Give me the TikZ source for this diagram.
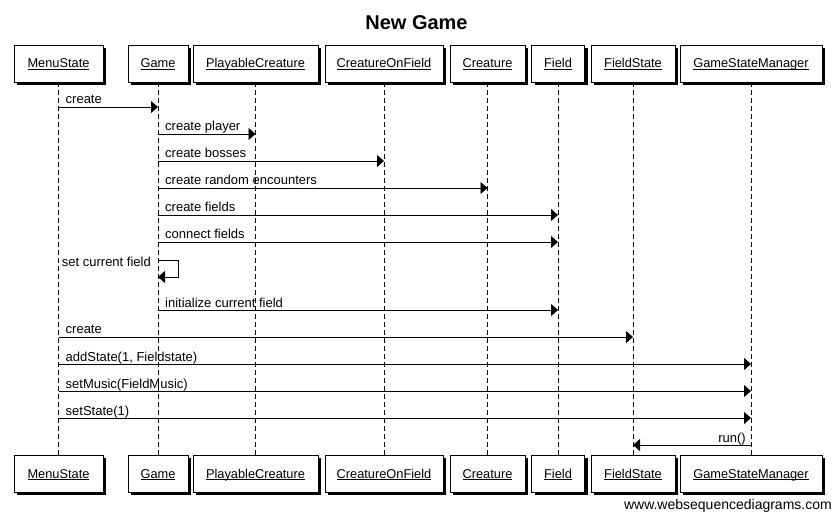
\documentclass[tikz,border=0pt]{standalone}
\usepackage{fontspec}
\setmainfont{Liberation Sans}
\usetikzlibrary{arrows.meta,shadows}
\begin{document}
\begin{tikzpicture}[x=1pt,y=-1pt,
  actor/.style={draw,fill=white,line width=0.9pt,minimum height=37pt,inner sep=0pt,
    text height=9pt,text depth=0pt,
    font=\fontsize{12.8}{14}\selectfont,
    drop shadow={shadow xshift=3pt,shadow yshift=-3pt,fill=black,opacity=1}},
  life/.style={line width=0.8pt,dash pattern=on 5pt off 3pt},
  msgline/.style={line width=0.8pt,-{Triangle[length=7pt,width=12pt]}},
  lbl/.style={font=\fontsize{13}{15}\selectfont,inner sep=0pt}]
\useasboundingbox (0,0) rectangle (833,513);
\fill[white] (0,0) rectangle (833,513);
\node[font=\bfseries\fontsize{20}{24}\selectfont] (title) at (416.5,23) {New Game};
\node[font=\fontsize{14}{16}\selectfont,anchor=base east,inner sep=0pt] (wsd) at (832,509) {www.websequencediagrams.com};
% actors
\foreach \n/\t/\cx/\w in {ms/MenuState/58.5/89, g/Game/158/60, pc/PlayableCreature/255.5/125,
  cof/CreatureOnField/384/118, cr/Creature/487.5/75, fd/Field/558/53, fs/FieldState/633/84,
  gsm/GameStateManager/751/142}{
  \node[actor,minimum width=\w pt] (\n top) at (\cx,63.5) {\underline{\raisebox{0pt}[\height][0pt]{\t}}};
  \node[actor,minimum width=\w pt] (\n bot) at (\cx,473.5) {\underline{\raisebox{0pt}[\height][0pt]{\t}}};
  \draw[life] (\n top.south) -- (\n bot.north);
}
\newcommand\seqmsg[4]{%
  \draw[msgline] (#1top |- 0,#3) -- (#2top |- 0,#3);
  \node[lbl,anchor=base west] at ([xshift=7pt]#1top |- 0,#3-3) {#4};}
\seqmsg{ms}{g}{107}{create}
\seqmsg{g}{pc}{134}{create player}
\seqmsg{g}{cof}{161}{create bosses}
\seqmsg{g}{cr}{188}{create random encounters}
\seqmsg{g}{fd}{215}{create fields}
\seqmsg{g}{fd}{242}{connect fields}
% self message
\coordinate (s1) at (gtop |- 0,260);
\coordinate (s2) at (gtop |- 0,277);
\draw[msgline] (s1) -- ++(20,0) |- (s2);
\node[lbl,anchor=base east] (selfl) at ([xshift=-7pt]gtop |- 0,267) {set current field};
\seqmsg{g}{fd}{310}{initialize current field}
\seqmsg{ms}{fs}{337}{create}
\seqmsg{ms}{gsm}{364}{addState(1, Fieldstate)}
\seqmsg{ms}{gsm}{391}{setMusic(FieldMusic)}
\seqmsg{ms}{gsm}{418}{setState(1)}
\draw[msgline] (gsmtop |- 0,445) -- (fstop |- 0,445);
\node[lbl,anchor=base east] (runl) at ([xshift=-5pt]gsmtop |- 0,442) {run()};
\end{tikzpicture}
\end{document}
